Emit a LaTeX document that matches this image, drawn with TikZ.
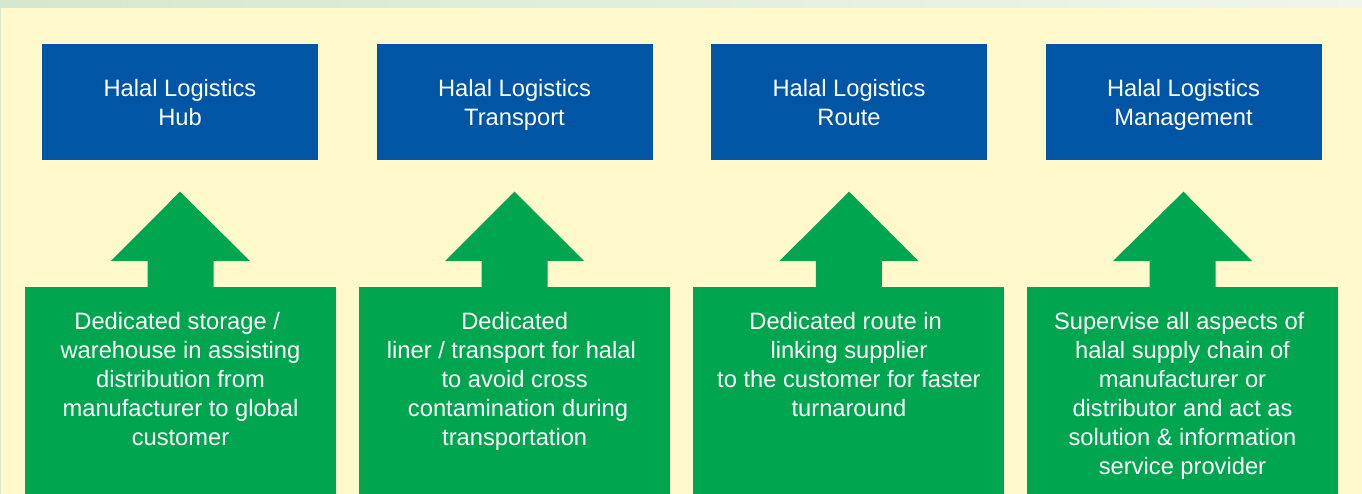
\documentclass[tikz,border=0pt]{standalone}
\usepackage{fontspec}
\setmainfont{Liberation Sans}
\usetikzlibrary{calc}
\definecolor{bgyellow}{HTML}{FFF9CC}
\definecolor{hdrL}{HTML}{D3E8CE}
\definecolor{hdrR}{HTML}{EFF6EC}
\definecolor{boxblue}{HTML}{0055A5}
\definecolor{boxgreen}{HTML}{00A54F}
\newcommand{\tsp}{\hspace*{6.6pt}}
\begin{document}
\begin{tikzpicture}[x=1pt,y=-1pt,
  bluebox/.style={fill=boxblue, draw=none, minimum width=276pt, minimum height=116pt, inner sep=0pt, outer sep=0pt, anchor=north west},
  greenbox/.style={fill=boxgreen, draw=none, minimum width=311pt, minimum height=208pt, inner sep=0pt, outer sep=0pt, anchor=north west},
  lbl/.style={text=white, font=\fontsize{23.7}{29}\selectfont, align=center, inner sep=0pt, anchor=north},
  uparrow/.style={fill=boxgreen, draw=none}]
\useasboundingbox (0,0) rectangle (1362,494);
\fill[bgyellow] (0,0) rectangle (1362,494);
\shade[left color=hdrL, right color=hdrR] (0,0) rectangle (1362,8);
\fill[hdrL] (0,8) rectangle (1,494);

% blue boxes
\node[bluebox] (b1) at (42,44) {};
\node[bluebox] (b2) at (376.5,44) {};
\node[bluebox] (b3) at (711,44) {};
\node[bluebox] (b4) at (1045.5,44) {};

% green boxes
\node[greenbox] (g1) at (25,287) {};
\node[greenbox] (g2) at (359.2,287) {};
\node[greenbox] (g3) at (693.4,287) {};
\node[greenbox] (g4) at (1027,287) {};

% arrows
\foreach \k in {1,2,3,4}{
  \path ($(b\k.south)$) coordinate (bs) ($(g\k.north)$) coordinate (gn);
  \fill[uparrow] (bs |- 0,191.7) -- ($(gn)+(69.5,-26)$) -- ($(gn)+(33,-26)$) -- ($(gn)+(33,0.5)$)
    -- ($(gn)+(-33,0.5)$) -- ($(gn)+(-33,-26)$) -- ($(gn)+(-69.5,-26)$) -- cycle;
}

% labels
\node[lbl] (bt1) at ($(b1.north)+(0,32.4)$) {\strut Halal Logistics\\Hub};
\node[lbl] (bt2) at ($(b2.north)+(0,32.4)$) {\strut Halal Logistics\\Transport};
\node[lbl] (bt3) at ($(b3.north)+(0,32.4)$) {\strut Halal Logistics\\Route};
\node[lbl] (bt4) at ($(b4.north)+(0,32.4)$) {\strut Halal Logistics\\Management};

\node[lbl] (gt1) at ($(g1.north)+(0,21.7)$) {\strut Dedicated storage /\tsp\\warehouse in assisting\tsp\\distribution from\tsp\\manufacturer to global\tsp\\customer};
\node[lbl] (gt2) at ($(g2.north)+(0,21.7)$) {\strut Dedicated\\liner / transport for halal\tsp\tsp\\to avoid cross\\\tsp contamination during\\transportation};
\node[lbl] (gt3) at ($(g3.north)+(0,21.7)$) {\strut Dedicated route in\tsp\\linking supplier\\to the customer for faster\tsp\\turnaround};
\node[lbl] (gt4) at ($(g4.north)+(0,21.7)$) {\strut Supervise all aspects of\tsp\\halal supply chain of\tsp\\manufacturer or\tsp\\distributor and act as\tsp\\solution \& information\tsp\\service provider};
\end{tikzpicture}
\end{document}
